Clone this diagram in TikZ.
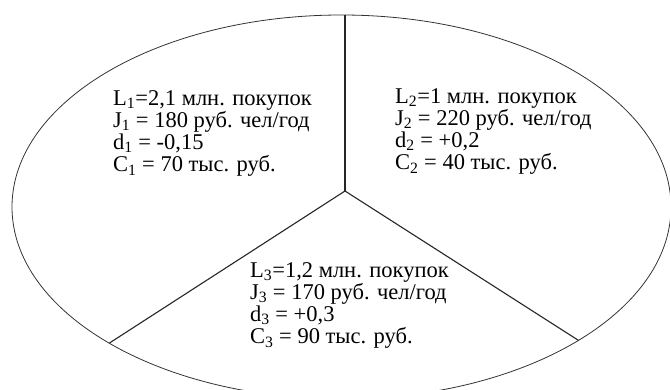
\documentclass[tikz,border=0pt]{standalone}
\usepackage{fontspec}
\setmainfont{Liberation Serif}
\begin{document}
\begin{tikzpicture}[x=1pt,y=-1pt,
  txt/.style={anchor=north west,inner sep=0pt,align=left,font=\fontsize{22.5}{22.3}\selectfont},
  sep/.style={line width=1.1pt,draw=black!85},
  outline/.style={line width=0.8pt,draw=black!80}]
\useasboundingbox[fill=white] (0,0) rectangle (670,390);
\begin{scope}
\clip (0,0) rectangle (670,390);
\draw[outline] (341.5,207) ellipse [x radius=329.5, y radius=192];
\end{scope}
\coordinate (c) at (345,191);
\coordinate (t) at (345,15);
\coordinate (l) at (109.5,343);
\coordinate (r) at (578.5,340.4);
\draw[sep] (c) -- (t);
\draw[sep] (c) -- (l);
\draw[sep] (c) -- (r);
\node[txt] (s1) at (113,90) {L\textsubscript{1}=2,1 млн. покупок\\J\textsubscript{1} = 180 руб. чел/год\\d\textsubscript{1} = -0,15\\C\textsubscript{1} = 70 тыс. руб.};
\node[txt] (s2) at (395,88) {L\textsubscript{2}=1 млн. покупок\\J\textsubscript{2} = 220 руб. чел/год\\d\textsubscript{2} = +0,2\\C\textsubscript{2} = 40 тыс. руб.};
\node[txt] (s3) at (250,262) {L\textsubscript{3}=1,2 млн. покупок\\J\textsubscript{3} = 170 руб. чел/год\\d\textsubscript{3} = +0,3\\C\textsubscript{3} = 90 тыс. руб.};
\end{tikzpicture}
\end{document}
